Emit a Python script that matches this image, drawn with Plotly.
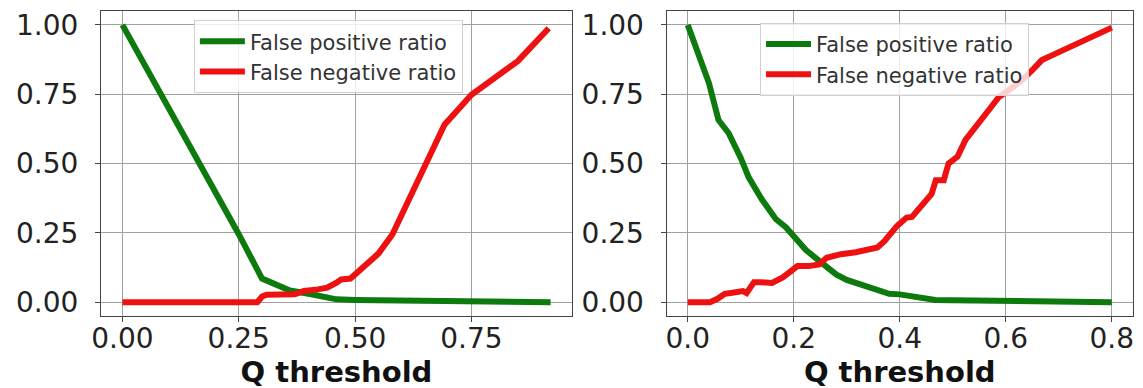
import plotly.graph_objects as go
from plotly.subplots import make_subplots

# ---- data ----
left_fp_x = [0.0, 0.10, 0.20, 0.25, 0.30, 0.33, 0.36, 0.40, 0.43, 0.46, 0.50, 0.58, 0.59, 0.70, 0.92]
left_fp_y = [1.0, 0.70, 0.395, 0.245, 0.085, 0.064, 0.042, 0.03, 0.018, 0.01, 0.008, 0.007, 0.002, 0.002, 0.0]

left_fn_x = [0.0, 0.29, 0.30, 0.31, 0.37, 0.39, 0.42, 0.44, 0.46, 0.47, 0.49, 0.50, 0.52, 0.55, 0.58,
             0.634, 0.692, 0.75, 0.80, 0.85, 0.916]
left_fn_y = [0.0, 0.0, 0.02, 0.027, 0.028, 0.04, 0.046, 0.052, 0.07, 0.082, 0.085, 0.10, 0.125, 0.175, 0.244,
             0.436, 0.64, 0.748, 0.81, 0.87, 0.988]

right_fp_x = [0.0, 0.02, 0.04, 0.058, 0.077, 0.10, 0.115, 0.14, 0.166, 0.185, 0.20, 0.223, 0.248, 0.28,
              0.30, 0.33, 0.36, 0.38, 0.40, 0.42, 0.44, 0.467, 0.50, 0.57, 0.59, 0.70, 0.80]
right_fp_y = [1.0, 0.90, 0.79, 0.657, 0.61, 0.52, 0.45, 0.37, 0.30, 0.27, 0.235, 0.188, 0.149, 0.10,
              0.08, 0.06, 0.04, 0.03, 0.028, 0.022, 0.016, 0.008, 0.007, 0.006, 0.001, 0.0005, 0.0]

right_fn_x = [0.0, 0.042, 0.056, 0.07, 0.084, 0.104, 0.111, 0.125, 0.138, 0.159, 0.18, 0.193, 0.207, 0.228,
              0.248, 0.262, 0.289, 0.317, 0.33, 0.358, 0.371, 0.395, 0.413, 0.423, 0.46, 0.468, 0.483, 0.492,
              0.509, 0.524, 0.568, 0.587, 0.606, 0.63, 0.65, 0.668, 0.687, 0.742, 0.80]
right_fn_y = [0.0, 0.0, 0.012, 0.03, 0.034, 0.04, 0.033, 0.072, 0.072, 0.069, 0.09, 0.11, 0.13, 0.13,
              0.136, 0.16, 0.173, 0.18, 0.185, 0.197, 0.22, 0.275, 0.305, 0.307, 0.39, 0.44, 0.44, 0.50,
              0.525, 0.585, 0.693, 0.74, 0.765, 0.80, 0.837, 0.873, 0.89, 0.94, 0.99]

series_names = ["False positive ratio", "False negative ratio"]
series_colors = ["#0c7a0c", "#ee1111"]
x_title = "Q threshold"

FONT = "DejaVu Sans"

fig = make_subplots(rows=1, cols=2, horizontal_spacing=0.09)

panels = [
    (1, left_fp_x, left_fp_y, left_fn_x, left_fn_y, "legend"),
    (2, right_fp_x, right_fp_y, right_fn_x, right_fn_y, "legend2"),
]
for col, fx, fy, nx, ny, lg in panels:
    fig.add_trace(go.Scatter(x=fx, y=fy, mode="lines", name=series_names[0],
                             line=dict(color=series_colors[0], width=6), legend=lg), row=1, col=col)
    fig.add_trace(go.Scatter(x=nx, y=ny, mode="lines", name=series_names[1],
                             line=dict(color=series_colors[1], width=6), legend=lg), row=1, col=col)

axis_common = dict(
    automargin=False,
    showline=True, mirror=True, linecolor="#444", linewidth=1,
    ticks="outside", ticklen=5, tickcolor="#444", tickwidth=1,
    showgrid=True, gridcolor="#a0a0a0", gridwidth=1, zeroline=False,
    tickfont=dict(family=FONT, size=28, color="#222"),
)

fig.update_xaxes(**axis_common, ticklabelstandoff=-8,
                 title=dict(text="<b>" + x_title + "</b>", font=dict(family=FONT, size=29, color="#111"),
                            standoff=0))
fig.update_yaxes(**axis_common, range=[-0.05, 1.05], tickvals=[0, 0.25, 0.5, 0.75, 1.0],
                 tickformat=".2f", ticklabelstandoff=11)

fig.update_xaxes(range=[-0.046, 0.966], tickvals=[0, 0.25, 0.5, 0.75], tickformat=".2f",
                 domain=[0.0, 0.4564], row=1, col=1)
fig.update_xaxes(range=[-0.04, 0.84], tickvals=[0, 0.2, 0.4, 0.6, 0.8], tickformat=".1f",
                 domain=[0.548, 1.0], row=1, col=2)

legend_style = dict(
    font=dict(family=FONT, size=21, color="#333"),
    bgcolor="rgba(255,255,255,0.8)", bordercolor="#d0d0d0", borderwidth=1,
    xanchor="left", yanchor="top", itemwidth=45, tracegroupgap=0,
)

# The page body has an 8 px margin, so the figure margins are offset by -8 px
fig.update_layout(
    width=1143, height=388,
    margin=dict(l=93, r=18, t=3, b=80, autoexpand=False),
    paper_bgcolor="white", plot_bgcolor="white",
    font=dict(family=FONT),
    legend=dict(x=0.090, y=0.97, **legend_style),
    legend2=dict(x=0.6386, y=0.961, **legend_style),
)

fig.write_html("out.html")
